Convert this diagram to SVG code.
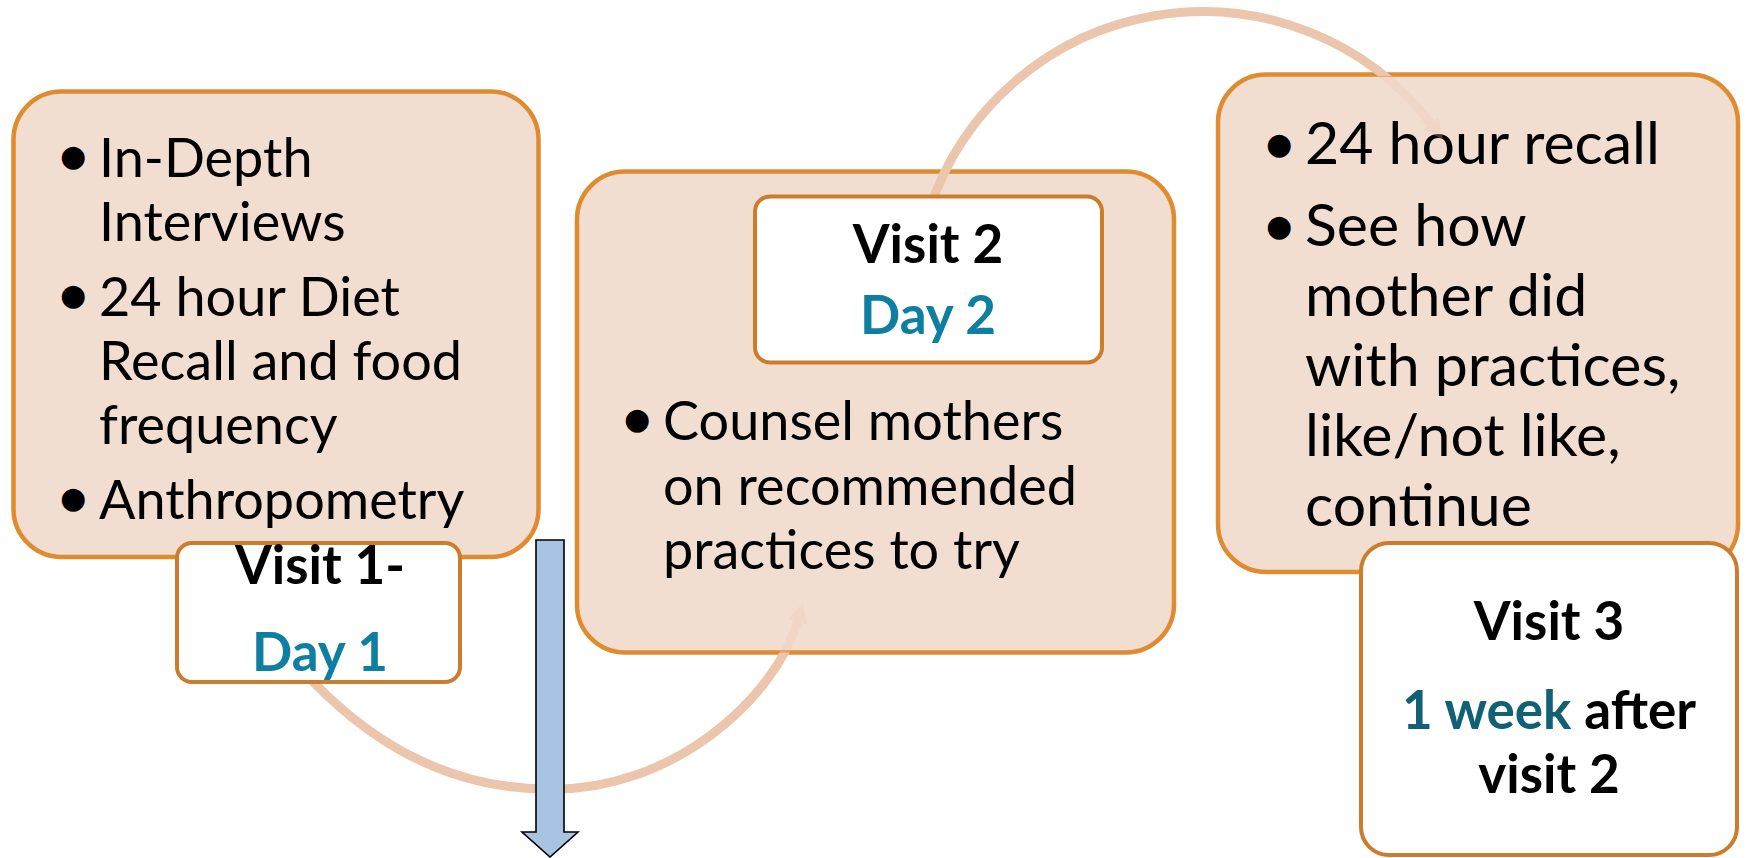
<svg xmlns="http://www.w3.org/2000/svg" width="1746" height="858" viewBox="0 0 1746 858">
  <style>
    .peach { fill: #F2DED1; stroke: #DF8C30; stroke-width: 4.5; }
    .label { fill: #FFFFFF; stroke: #CB7C2C; stroke-width: 4; }
    .body { font-family: Lato, "Liberation Sans", sans-serif; font-size: 54px; fill: #000000; }
    .body3 { font-family: Lato, "Liberation Sans", sans-serif; font-size: 59px; fill: #000000; }
    .bullet { font-family: "DejaVu Sans", sans-serif; font-size: 30px; fill: #000000; text-anchor: middle; }
    .lbl { font-family: Lato, "Liberation Sans", sans-serif; font-size: 53px; font-weight: bold; fill: #000000; text-anchor: middle; }
    .day { fill: #0E7FA1; }
    .week { fill: #116074; }
    .arc { fill: none; stroke: #EBC5AC; stroke-width: 9; }
    .blue { fill: #A7C5E3; stroke: #000000; stroke-width: 1.6; stroke-linejoin: miter; }
  </style>
  <defs>
    <marker id="head" viewBox="0 0 10 10" refX="1" refY="5" markerWidth="2.2" markerHeight="2.8" orient="auto" markerUnits="strokeWidth">
      <path d="M0,0 L10,5 L0,10 Z" fill="#EBC5AC"/>
    </marker>
    <mask id="m1" maskUnits="userSpaceOnUse" x="0" y="0" width="1746" height="858">
      <rect x="0" y="0" width="1746" height="858" fill="#FFFFFF"/>
      <rect x="577" y="171.5" width="597" height="481" rx="48" fill="#4A4A4A"/>
    </mask>
    <mask id="m2" maskUnits="userSpaceOnUse" x="0" y="0" width="1746" height="858">
      <rect x="0" y="0" width="1746" height="858" fill="#FFFFFF"/>
      <rect x="1218" y="76" width="520" height="496" rx="48" fill="#4A4A4A"/>
    </mask>
  </defs>

  <g id="node-visit1-content">
    <rect class="peach" x="13.5" y="91.5" width="525" height="465.5" rx="48"/>
    <text class="bullet" x="73" y="166">●</text>
    <text class="body" x="99" y="177">In-Depth</text>
    <text class="body" x="99" y="241">Interviews</text>
    <text class="bullet" x="73" y="305">●</text>
    <text class="body" x="99" y="316">24 hour Diet</text>
    <text class="body" x="99" y="380">Recall and food</text>
    <text class="body" x="99" y="444">frequency</text>
    <text class="bullet" x="73" y="508">●</text>
    <text class="body" x="99" y="519">Anthropometry</text>
  </g>

  <g id="node-visit2-content">
    <rect class="peach" x="577" y="171.5" width="597" height="481" rx="48"/>
    <text class="bullet" x="637" y="429">●</text>
    <text class="body" x="663" y="440">Counsel mothers</text>
    <text class="body" x="663" y="505">on recommended</text>
    <text class="body" x="663" y="569">practices to try</text>
  </g>

  <g id="node-visit3-content">
    <rect class="peach" x="1218" y="74.5" width="520" height="497.5" rx="48"/>
    <text class="bullet" x="1279" y="154">●</text>
    <text class="body3" x="1305" y="164">24 hour recall</text>
    <text class="bullet" x="1279" y="236">●</text>
    <text class="body3" x="1305" y="246">See how</text>
    <text class="body3" x="1305" y="316">mother did</text>
    <text class="body3" x="1305" y="386">with practices,</text>
    <text class="body3" x="1305" y="456">like/not like,</text>
    <text class="body3" x="1305" y="526">continue</text>
  </g>

  <g id="connectors">
    <g mask="url(#m1)">
      <path class="arc" d="M300,668 C360,734 439,789 549,789 C670,792 775,700 798,620" marker-end="url(#head)"/>
    </g>
    <g mask="url(#m2)">
      <path class="arc" d="M929,211 A288,288 0 0 1 1432,125" marker-end="url(#head)"/>
    </g>
  </g>

  <g id="label-visit1">
    <rect class="label" x="177" y="543" width="283" height="139" rx="15"/>
    <text class="lbl" x="320" y="584">Visit 1-</text>
    <text class="lbl day" x="320" y="671">Day 1</text>
  </g>

  <g id="label-visit2">
    <rect class="label" x="755" y="196.5" width="347" height="166" rx="15"/>
    <text class="lbl" x="928" y="263">Visit 2</text>
    <text class="lbl day" x="928" y="334">Day 2</text>
  </g>

  <g id="label-visit3">
    <rect class="label" x="1361" y="543" width="376" height="312" rx="28"/>
    <text class="lbl" x="1549" y="640">Visit 3</text>
    <text class="lbl" x="1549" y="729"><tspan class="week">1 week</tspan> after</text>
    <text class="lbl" x="1549" y="793">visit 2</text>
  </g>

  <g id="down-arrow">
    <path class="blue" d="M536,540 L564,540 L564,832 L578,832 L550,857 L522,832 L536,832 Z"/>
  </g>
</svg>
